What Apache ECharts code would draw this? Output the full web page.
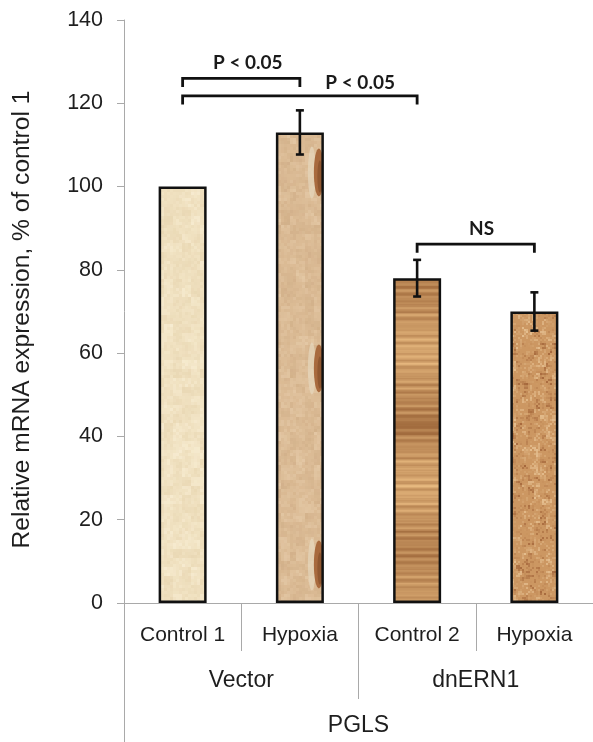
<!DOCTYPE html>
<html><head><meta charset="utf-8">
<script src="https://cdn.jsdelivr.net/npm/echarts@6/dist/echarts.min.js"></script>
<style>html,body{margin:0;padding:0;background:#fff}#c{width:593px;height:742px}</style>
</head><body><div id="c"></div>
<script>
// ---- data ----
const categories = ['Control 1', 'Hypoxia', 'Control 2', 'Hypoxia'];
const groups = ['Vector', 'dnERN1'];
const outerGroup = ['PGLS'];
const values = [100, 113, 78, 70];
const errors = [0, 5.3, 4.4, 4.6];
const yMin = 0, yMax = 140, yInterval = 20;
const yTitle = 'Relative mRNA expression, % of control 1';
const bracketFrom = [0, 0, 2];
const bracketTo = [1, 2, 3];
const bracketY = [126, 121.8, 86.2];
const bracketLabels = ['P < 0.05', 'P < 0.05', 'NS'];
const bracketLabelY = [129.7, 124.9, 89.8];
const bracketLabelPos = [0.556, 0.757, 0.55];

// ---- style ----
const legDrop = 2.1;
const axisGrey = '#a9a9a9';
const textColor = '#1e1e1e';
const baseColors = ['#f0e1c0', '#dbbb95', '#d6a068', '#cc9762'];
const FF = '"Liberation Sans", Arial, sans-serif';

function hash(x, y) {
  const h = Math.sin(x * 127.1 + y * 311.7) * 43758.5453;
  return h - Math.floor(h);
}

const chart = echarts.init(document.getElementById('c'), null, {renderer: 'canvas'});

function makeTexture(i, x0, x1, y0, y1) {
  const c = document.createElement('canvas');
  c.width = 593; c.height = 742;
  const ctx = c.getContext('2d');
  ctx.fillStyle = baseColors[i];
  ctx.fillRect(0, 0, 593, 742);
  const X0 = Math.floor(x0), X1 = Math.ceil(x1), Y0 = Math.floor(y0), Y1 = Math.ceil(y1);
  if (i === 0) {
    for (let y = Y0; y < Y1; y += 3) for (let x = X0; x < X1; x += 3) {
      const n = hash(Math.floor(x / 9), Math.floor(y / 9)) * 0.6 + hash(x, y) * 0.4;
      ctx.fillStyle = n > 0.5 ? 'rgba(255,248,228,' + ((n - 0.5) * 0.9) + ')' : 'rgba(205,178,130,' + ((0.5 - n) * 0.4) + ')';
      ctx.fillRect(x, y, 3, 3);
    }
  } else if (i === 1) {
    for (let y = Y0; y < Y1; y += 3) for (let x = X0; x < X1; x += 3) {
      const n = hash(Math.floor(x / 8) + 3, Math.floor(y / 8)) * 0.6 + hash(x + 1, y) * 0.4;
      ctx.fillStyle = n > 0.5 ? 'rgba(240,218,188,' + ((n - 0.5) * 0.8) + ')' : 'rgba(180,140,100,' + ((0.5 - n) * 0.45) + ')';
      ctx.fillRect(x, y, 3, 3);
    }
    for (let k = 0; k < 3; k++) {
      const cy = y0 + 40 + k * 196;
      ctx.fillStyle = 'rgba(230,215,190,0.7)';
      ctx.beginPath();
      ctx.ellipse(x1 - 12, cy, 4, 26, 0, 0, Math.PI * 2);
      ctx.fill();
      ctx.fillStyle = '#a86a3e';
      ctx.beginPath();
      ctx.ellipse(x1 - 5, cy, 5, 24, 0, 0, Math.PI * 2);
      ctx.fill();
      ctx.fillStyle = 'rgba(120,70,35,0.5)';
      ctx.beginPath();
      ctx.ellipse(x1 - 4, cy + 4, 2.5, 16, 0, 0, Math.PI * 2);
      ctx.fill();
    }
  } else if (i === 2) {
    for (let y = Y0; y < Y1; y++) {
      const t = y - Y0;
      let s = 0.5 + 0.25 * Math.sin(t * 0.9) * Math.sin(t * 0.13) + 0.2 * Math.sin(t * 0.047 + 1.3);
      s += 0.25 * Math.exp(-Math.pow((t - 148) / 10, 2));
      s += 0.15 * (hash(t, 7) - 0.5);
      s = Math.max(0, Math.min(1, s));
      const r = Math.round(232 - 70 * s), g = Math.round(186 - 78 * s), b = Math.round(128 - 66 * s);
      ctx.fillStyle = 'rgb(' + r + ',' + g + ',' + b + ')';
      ctx.fillRect(X0, y, X1 - X0, 1);
    }
  } else {
    for (let y = Y0; y < Y1; y += 2) for (let x = X0; x < X1; x += 2) {
      const n = hash(Math.floor(x / 6) + 11, Math.floor(y / 6)) * 0.5 + hash(x + 5, y + 3) * 0.5;
      if (n > 0.62) ctx.fillStyle = 'rgba(238,205,160,' + ((n - 0.62) * 2) + ')';
      else if (n < 0.35) ctx.fillStyle = 'rgba(150,85,45,' + ((0.35 - n) * 2.2) + ')';
      else continue;
      ctx.fillRect(x, y, 2, 2);
    }
  }
  return c;
}

const barData = values.map((v, i) => ({value: v, itemStyle: {color: baseColors[i]}}));
const errData = values.map((v, i) => [i, v, errors[i]]);
const brData = bracketFrom.map((f, i) => [f, bracketTo[i], bracketY[i], bracketLabelPos[i], bracketLabelY[i]]);

const option = {
  animation: false,
  backgroundColor: '#fff',
  grid: {left: 124, right: 0, top: 20, bottom: 139},
  xAxis: [
    {
      type: 'category', data: categories, position: 'bottom', gridIndex: 0,
      axisLine: {show: true, lineStyle: {color: axisGrey, width: 1}},
      axisTick: {show: true, length: 48, interval: 0, lineStyle: {color: axisGrey}},
      axisLabel: {interval: 0, margin: 22, fontSize: 21, color: textColor, fontFamily: FF}
    },
    {
      type: 'category', data: groups, position: 'bottom', gridIndex: 0,
      axisLine: {show: false},
      axisTick: {show: true, length: 96, interval: 0, lineStyle: {color: axisGrey}},
      axisLabel: {interval: 0, margin: 66, fontSize: 23, color: textColor, fontFamily: FF}
    },
    {
      type: 'category', data: outerGroup, position: 'bottom', gridIndex: 0,
      axisLine: {show: false},
      axisTick: {show: true, length: 139, interval: 0, lineStyle: {color: axisGrey}},
      axisLabel: {interval: 0, margin: 111, fontSize: 23, color: textColor, fontFamily: FF}
    }
  ],
  yAxis: {
    type: 'value', min: yMin, max: yMax, interval: yInterval,
    name: yTitle, nameLocation: 'middle', nameGap: 89, nameRotate: 90,
    nameTextStyle: {fontSize: 24.6, color: textColor, fontFamily: FF, padding: [0, 16, 0, 0]},
    axisLine: {show: true, lineStyle: {color: axisGrey, width: 1}},
    axisTick: {show: true, length: 7, lineStyle: {color: axisGrey}},
    axisLabel: {margin: 21, fontSize: 21.5, color: textColor, fontFamily: FF},
    splitLine: {show: false}
  },
  series: [
    {
      type: 'bar', xAxisIndex: 0, data: barData, barWidth: 48,
      itemStyle: {borderColor: '#111', borderWidth: 2.5}
    },
    {
      type: 'custom', xAxisIndex: 0, data: errData, z: 5,
      renderItem: function (params, api) {
        const i = api.value(0), v = api.value(1), e = api.value(2);
        if (!e) return null;
        const t = api.coord([i, v + e]), b = api.coord([i, v - e]);
        const cw = 4;
        const st = {stroke: '#111', lineWidth: 2.6};
        return {type: 'group', children: [
          {type: 'line', shape: {x1: t[0], y1: t[1], x2: b[0], y2: b[1]}, style: st},
          {type: 'line', shape: {x1: t[0] - cw, y1: t[1], x2: t[0] + cw, y2: t[1]}, style: st},
          {type: 'line', shape: {x1: b[0] - cw, y1: b[1], x2: b[0] + cw, y2: b[1]}, style: st}
        ]};
      }
    },
    {
      type: 'custom', xAxisIndex: 0, data: brData, z: 6, clip: false,
      renderItem: function (params, api) {
        const f = api.value(0), to = api.value(1), y = api.value(2), lp = api.value(3), ly = api.value(4);
        const p1 = api.coord([f, y]), p2 = api.coord([to, y]), d = api.coord([f, y - legDrop]);
        const lx = p1[0] + (p2[0] - p1[0]) * lp;
        const lyy = api.coord([f, ly])[1];
        return {type: 'group', children: [
          {type: 'polyline', shape: {points: [[p1[0], d[1]], [p1[0], p1[1]], [p2[0], p1[1]], [p2[0], d[1]]]},
           style: {stroke: '#111', lineWidth: 2.8, fill: null}},
          {type: 'text', x: lx, y: lyy, style: {text: bracketLabels[params.dataIndex], align: 'center', verticalAlign: 'middle',
           font: 'bold 19px Lato, "Liberation Sans", sans-serif', fill: '#1a1a1a'}}
        ]};
      }
    }
  ]
};
chart.setOption(option);

// build textures from the laid-out bars
const newData = values.map((v, i) => {
  const top = chart.convertToPixel({seriesIndex: 0}, [i, v]);
  const base = chart.convertToPixel({seriesIndex: 0}, [i, 0]);
  const half = 24;
  const tex = makeTexture(i, top[0] - half, top[0] + half, top[1], base[1]);
  return {value: v, itemStyle: {color: {image: tex, repeat: 'no-repeat'}}};
});
chart.setOption({series: [{data: newData}]});
</script>
</body></html>
